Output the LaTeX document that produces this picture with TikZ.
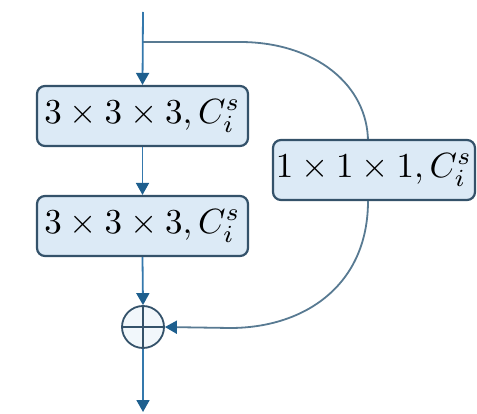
\documentclass[tikz,border=0pt]{standalone}
\usepackage{graphicx}
\usetikzlibrary{arrows.meta}
\definecolor{boxfill}{HTML}{DCEAF6}
\definecolor{boxline}{HTML}{34526A}
\definecolor{flow}{HTML}{3478AC}
\definecolor{curve}{HTML}{587A92}
\definecolor{tip}{HTML}{1E5F8E}
\newcommand{\bigtxt}[1]{\scalebox{3.5}{$#1$}}
\tikzset{
  blk/.style={draw=boxline, line width=2.2pt, fill=boxfill, rounded corners=8pt,
    minimum height=60pt, inner sep=0pt},
  flowline/.style={draw=flow, line width=1.8pt, -{Triangle[width=13pt,length=12pt,color=tip]}},
  curveline/.style={draw=curve, line width=1.8pt},
}
\begin{document}
\begin{tikzpicture}[x=1pt,y=-1pt]
\useasboundingbox (0,0) rectangle (477,414);
\coordinate (top) at (143,12);
\coordinate (br) at (143,42);
\coordinate (out) at (143,412);
\node[blk, minimum width=211pt] (b1) at (142.5,116) {\bigtxt{3\times3\times3, C_i^s}};
\node[blk, minimum width=211pt] (b2) at (142.5,226) {\bigtxt{3\times3\times3, C_i^s}};
\node[circle, draw=boxline, line width=1.8pt, fill=boxfill!40, minimum size=42pt, inner sep=0pt] (sum) at (143,327) {};
\draw[boxline, line width=1.5pt] (sum.north) -- (sum.south) (sum.west) -- (sum.east);
% shortcut branch
\draw[curveline] (br) -- (240,42) .. controls (315,42) and (368,85) .. (368,142);
\node[blk, minimum width=202pt] (r) at (374,170) {\bigtxt{1\times1\times1, C_i^s}};
\draw[curveline, -{Triangle[width=13pt,length=12pt,color=tip]}] ([xshift=-6pt]r.south) .. controls (368,285) and (305,328) .. (230,328) -- (sum.east);
% main flow
\draw[flowline] (top) -- (b1.north);
\draw[flowline] (b1.south) -- (b2.north);
\draw[flowline] (b2.south) -- (sum.north);
\draw[flowline] (sum.south) -- (out);
\end{tikzpicture}
\end{document}
